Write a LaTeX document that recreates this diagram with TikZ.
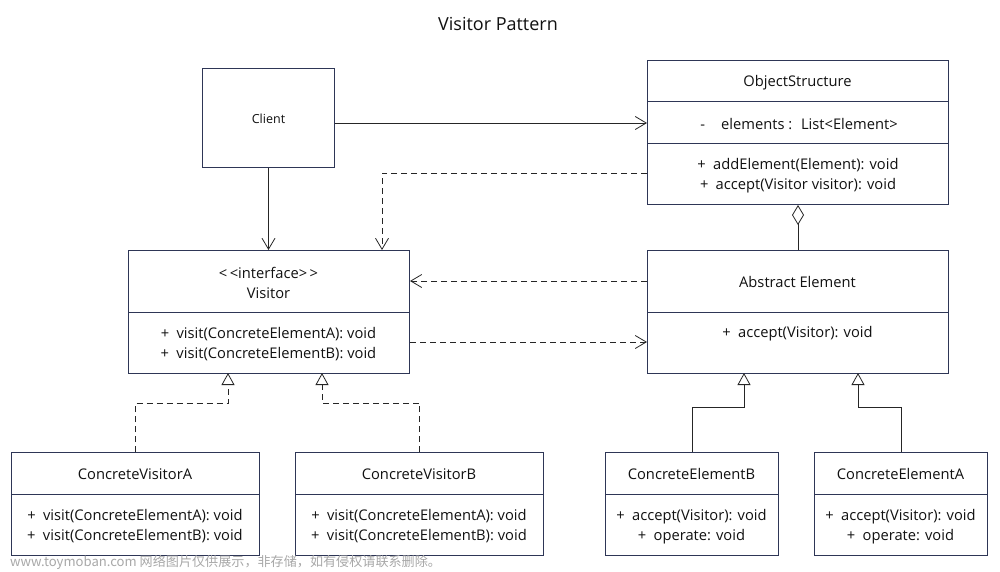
\documentclass[tikz,border=0pt]{standalone}
\usepackage{fontspec}
\setmainfont{Open Sans}
\newfontfamily\cjk{Noto Sans CJK SC}
\usetikzlibrary{arrows.meta}
\definecolor{boxc}{HTML}{2E3656}
\definecolor{linec}{HTML}{262626}
\definecolor{txtc}{HTML}{111111}
\definecolor{wmc}{HTML}{A8A8A8}
\begin{document}
\begin{tikzpicture}[x=1pt,y=-1pt,
  cls/.style={draw=boxc, line width=1pt, fill=white, inner sep=0pt, anchor=north west},
  txt/.style={text=txtc, font=\fontsize{14.7}{17}\selectfont, inner sep=0pt, yshift=-1.2pt},
  sepline/.style={draw=boxc, line width=1pt},
  assoc/.style={draw=linec, line width=0.8pt, -{Straight Barb[length=11pt,width=13pt,line width=0.8pt]}},
  depend/.style={assoc, dash pattern=on 6pt off 4pt},
  realize/.style={draw=linec, line width=0.8pt, dash pattern=on 6pt off 4pt, -{Triangle[open, length=12pt, width=13pt, fill=white, line width=0.8pt]}},
  inherit/.style={draw=linec, line width=0.8pt, -{Triangle[open, length=12pt, width=13pt, fill=white, line width=0.8pt]}},
  aggreg/.style={draw=linec, line width=0.8pt, -{Diamond[open, length=20pt, width=12pt, fill=white, line width=0.8pt]}}]
\useasboundingbox (0,0) rectangle (1000,571);
\fill[white] (0,0) rectangle (1000,571);

% title
\node[txt, font=\fontsize{18}{20}\selectfont] (title) at (498,23) {Visitor Pattern};

% Client
\node[cls, minimum width=132pt, minimum height=99pt] (client) at (202,68) {};
\node[txt, font=\fontsize{12.5}{15}\selectfont] (clientT) at (client.center) {Client};

% ObjectStructure
\node[cls, minimum width=301pt, minimum height=144pt] (os) at (647,60) {};
\draw[sepline] (os.west |- 0,101) -- (os.east |- 0,101);
\draw[sepline] (os.west |- 0,143) -- (os.east |- 0,143);
\node[txt] (osT) at (797.5,81) {ObjectStructure};
\node[txt] (osA) at (799,122.5) {-\hspace{1.1em}elements :\hspace{0.6em}List<Element>};
\node[txt] (osM1) at (798,164) {+\hspace{0.5em}addElement(Element): void};
\node[txt] (osM2) at (798,184) {+\hspace{0.5em}accept(Visitor visitor): void};

% Abstract Element
\node[cls, minimum width=301pt, minimum height=123pt] (ae) at (647,250) {};
\draw[sepline] (ae.west |- 0,312) -- (ae.east |- 0,312);
\node[txt] (aeT) at (797.5,281) {Abstract Element};
\node[txt] (aeM) at (797.5,332.5) {+\hspace{0.5em}accept(Visitor): void};

% Visitor
\node[cls, minimum width=281pt, minimum height=123pt] (vis) at (128,250) {};
\draw[sepline] (vis.west |- 0,312) -- (vis.east |- 0,312);
\node[txt] (visS) at (268.5,272) {<\,<interface>\,>};
\node[txt] (visT) at (268.5,291.5) {Visitor};
\node[txt] (visM1) at (268.5,333) {+\hspace{0.5em}visit(ConcreteElementA): void};
\node[txt] (visM2) at (268.5,353) {+\hspace{0.5em}visit(ConcreteElementB): void};

% ConcreteVisitorA
\node[cls, minimum width=248pt, minimum height=103pt] (cva) at (11,452) {};
\draw[sepline] (cva.west |- 0,494) -- (cva.east |- 0,494);
\node[txt] (cvaT) at (135,473) {ConcreteVisitorA};
\node[txt] (cvaM1) at (135,515) {+\hspace{0.5em}visit(ConcreteElementA): void};
\node[txt] (cvaM2) at (135,535) {+\hspace{0.5em}visit(ConcreteElementB): void};

% ConcreteVisitorB
\node[cls, minimum width=248pt, minimum height=103pt] (cvb) at (295,452) {};
\draw[sepline] (cvb.west |- 0,494) -- (cvb.east |- 0,494);
\node[txt] (cvbT) at (419,473) {ConcreteVisitorB};
\node[txt] (cvbM1) at (419,515) {+\hspace{0.5em}visit(ConcreteElementA): void};
\node[txt] (cvbM2) at (419,535) {+\hspace{0.5em}visit(ConcreteElementB): void};

% ConcreteElementB
\node[cls, minimum width=173pt, minimum height=103pt] (ceb) at (605,452) {};
\draw[sepline] (ceb.west |- 0,494) -- (ceb.east |- 0,494);
\node[txt] (cebT) at (691.5,473) {ConcreteElementB};
\node[txt] (cebM1) at (691.5,515) {+\hspace{0.5em}accept(Visitor): void};
\node[txt] (cebM2) at (691.5,535) {+\hspace{0.5em}operate: void};

% ConcreteElementA
\node[cls, minimum width=173pt, minimum height=103pt] (cea) at (814,452) {};
\draw[sepline] (cea.west |- 0,494) -- (cea.east |- 0,494);
\node[txt] (ceaT) at (900.5,473) {ConcreteElementA};
\node[txt] (ceaM1) at (900.5,515) {+\hspace{0.5em}accept(Visitor): void};
\node[txt] (ceaM2) at (900.5,535) {+\hspace{0.5em}operate: void};

% connectors
\draw[assoc] (client.east |- 0,123) -- (os.west |- 0,123);
\draw[assoc] (client.south) -- (client.south |- vis.north);
\coordinate (osdep) at (os.west |- 0,173);
\coordinate (visin) at (382,250);
\draw[depend] (osdep) -| (visin);
\draw[depend] (ae.west |- 0,281) -- (vis.east |- 0,281);
\draw[depend] (vis.east |- 0,342) -- (ae.west |- 0,342);
\draw[aggreg] (ae.north) -- (os.south);

\coordinate (cvaTo) at (228,373);
\coordinate (cvbTo) at (322,373);
\coordinate (cebTo) at (744,373);
\coordinate (ceaTo) at (858,373);
\draw[realize] (cva.north) |- (228,403) -- (cvaTo);
\draw[realize] (cvb.north) |- (322,403) -- (cvbTo);
\draw[inherit] (ceb.north) |- (744,407) -- (cebTo);
\draw[inherit] (cea.north) |- (858,407) -- (ceaTo);

% watermark
\node[anchor=west, inner sep=0pt, text=wmc, font=\cjk\fontsize{13.1}{16}\selectfont] (wm) at (10,562) {www.toymoban.com 网络图片仅供展示，非存储，如有侵权请联系删除。};
\end{tikzpicture}
\end{document}
